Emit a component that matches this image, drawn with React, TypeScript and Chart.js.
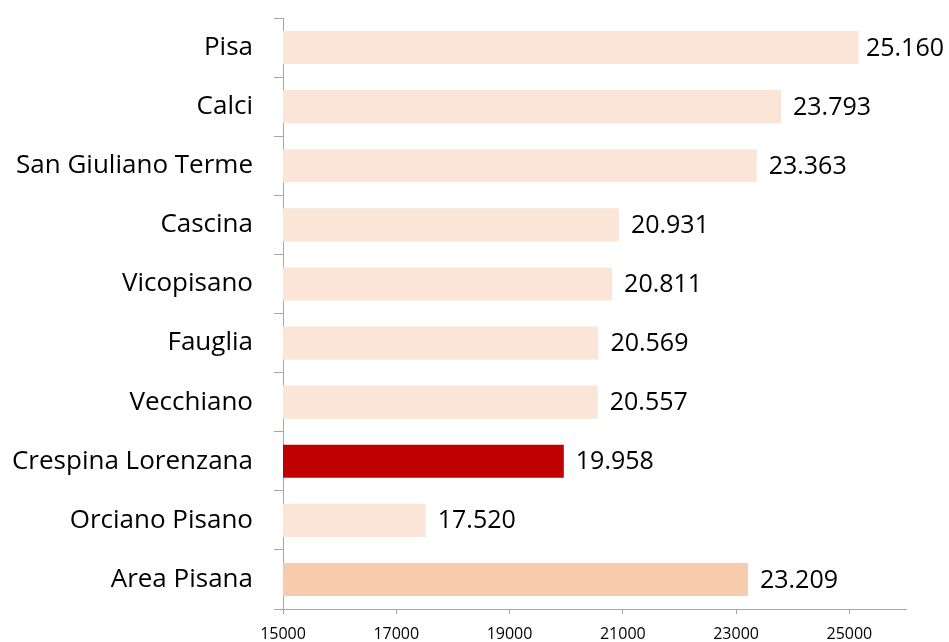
import React, { useEffect, useRef } from "react";
import { Chart, registerables } from "chart.js";

Chart.register(...registerables);

const categories = [
  "Pisa",
  "Calci",
  "San Giuliano Terme",
  "Cascina",
  "Vicopisano",
  "Fauglia",
  "Vecchiano",
  "Crespina Lorenzana",
  "Orciano Pisano",
  "Area Pisana",
];
const values = [25160, 23793, 23363, 20931, 20811, 20569, 20557, 19958, 17520, 23209];
const barColors = [
  "#FBE5D6", "#FBE5D6", "#FBE5D6", "#FBE5D6", "#FBE5D6",
  "#FBE5D6", "#FBE5D6", "#C00000", "#FBE5D6", "#F8CBAD",
];
const xTicks = [15000, 17000, 19000, 21000, 23000, 25000];

const fmt = (v: number) => String(v).replace(/\B(?=(\d{3})+(?!\d))/g, ".");

const FONT = "'Open Sans', 'DejaVu Sans', sans-serif";

const valueLabels = {
  id: "valueLabels",
  afterDatasetsDraw(chart: any) {
    const ctx = chart.ctx;
    const meta = chart.getDatasetMeta(0);
    ctx.save();
    ctx.font = `25px ${FONT}`;
    ctx.fillStyle = "#000000";
    ctx.textBaseline = "middle";
    ctx.textAlign = "left";
    meta.data.forEach((bar: any, i: number) => {
      const text = fmt(values[i]);
      const w = ctx.measureText(text).width;
      const x = Math.min(bar.x + 12, chart.width - w - 5);
      ctx.fillText(text, x, bar.y + 1);
    });
    ctx.restore();
  },
};

export default function App() {
  const ref = useRef<HTMLCanvasElement | null>(null);
  useEffect(() => {
    document.body.style.margin = "0";
    let chart: Chart | null = null;
    let cancelled = false;
    const make = () => {
      if (cancelled || !ref.current) return;
      chart = new Chart(ref.current, {
        type: "bar",
        data: {
          labels: categories,
          datasets: [
            {
              data: values,
              backgroundColor: barColors,
              borderWidth: 0,
              categoryPercentage: 1,
              barPercentage: 0.56,
            },
          ],
        },
        options: {
          indexAxis: "y",
          animation: false,
          responsive: false,
          maintainAspectRatio: false,
          layout: { padding: { top: 18, right: 43, left: 0, bottom: 0 } },
          plugins: { legend: { display: false }, tooltip: { enabled: false } },
          scales: {
            x: {
              type: "linear",
              min: 15000,
              max: 26000,
              afterBuildTicks: (scale: any) => {
                scale.ticks = xTicks.map((v) => ({ value: v }));
              },
              afterFit: (scale: any) => {
                scale.height = 33;
                scale.paddingRight = 0;
              },
              ticks: {
                stepSize: 2000,
                color: "#000000",
                font: { family: FONT, size: 16 },
                padding: 11,
                maxRotation: 0,
                callback: (v: any) => String(v),
              },
              grid: {
                drawOnChartArea: false,
                drawTicks: true,
                tickLength: 5,
                color: "#A6A6A6",
              },
              border: { display: true, color: "#A6A6A6", width: 1 },
            },
            y: {
              type: "category",
              offset: true,
              afterFit: (scale: any) => {
                scale.width = 283;
                scale.paddingTop = 0;
                scale.paddingBottom = 0;
              },
              ticks: {
                color: "#000000",
                font: { family: FONT, size: 26 },
                padding: 21,
              },
              grid: {
                offset: true,
                drawOnChartArea: false,
                drawTicks: true,
                tickLength: 9,
                color: "#A6A6A6",
              },
              border: { display: true, color: "#A6A6A6", width: 1 },
            },
          },
        },
        plugins: [valueLabels],
      });
    };
    const fonts: any = (document as any).fonts;
    if (fonts && fonts.load) {
      Promise.all([fonts.load(`26px ${FONT}`), fonts.load(`16px ${FONT}`)])
        .then(make, make);
    } else {
      make();
    }
    return () => {
      cancelled = true;
      if (chart) chart.destroy();
    };
  }, []);
  return (
    <div style={{ width: 949, height: 642 }}>
      <canvas ref={ref} width={949} height={642} style={{ display: "block", width: 949, height: 642 }} />
    </div>
  );
}
